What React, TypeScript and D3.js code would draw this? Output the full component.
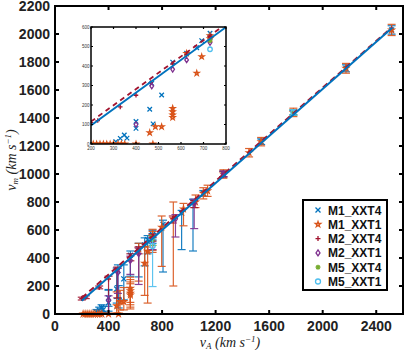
import React from 'react';
import * as d3 from 'd3';

// fit lines (vA -> vm)
const fitVA = [200, 2520];
const fitBlue = [95, 2045];
const fitRed = [115, 2050];

// M1_XXT4
const m1t4VA = [310, 330, 348, 360, 400, 400, 461, 470, 476, 514, 563, 625, 670, 692, 729, 729, 807, 946, 1031, 1108, 1258, 1540, 1781, 2174, 2515];
const m1t4VM = [12, 29, 46, 30, 80, 115, 178, 311, 103, 251, 420, 465, 494, 530, 568, 545, 640, 720, 800, 862, 1000, 1231, 1438, 1755, 2029];
const m1t4Lo = [10, 20, 30, 20, 60, 60, 100, 200, 60, 150, 150, 200, 150, 100, 40, 40, 340, 260, 350, 20, 20, 20, 15, 25, 30];
const m1t4Hi = [20, 20, 20, 25, 90, 60, 150, 40, 100, 100, 30, 40, 50, 30, 30, 30, 30, 20, 20, 20, 20, 20, 15, 25, 30];

// M1_XXT1
const m1t1VA = [210, 225, 240, 255, 270, 285, 300, 320, 335, 350, 400, 475, 461, 486, 514, 563, 563, 563, 563, 625, 670, 692, 729, 729, 797, 884, 960, 1050, 1108, 1140, 1258, 1450, 1540, 1781, 2174, 2515];
const m1t1VM = [0, 0, 0, 0, 0, 0, 0, 0, 0, 0, 0, 0, 58, 89, 89, 183, 166, 149, 136, 465, 363, 448, 540, 555, 620, 680, 750, 800, 862, 880, 1000, 1152, 1231, 1440, 1755, 2029];
const m1t1Lo = [0, 0, 0, 0, 0, 0, 0, 0, 0, 0, 0, 0, 50, 60, 60, 100, 100, 100, 100, 230, 230, 370, 100, 100, 280, 480, 120, 40, 40, 40, 30, 30, 30, 30, 35, 40];
const m1t1Hi = [0, 0, 0, 0, 0, 0, 0, 0, 0, 0, 0, 0, 100, 80, 100, 80, 80, 80, 80, 40, 120, 30, 50, 50, 80, 120, 40, 50, 40, 40, 30, 30, 30, 30, 35, 40];

// M2_XXT4
const m2t4VA = [200, 230, 330, 400, 465, 563, 625, 729, 880, 1040, 1258];
const m2t4VM = [110, 120, 190, 250, 315, 410, 460, 550, 680, 790, 1000];
const m2t4Lo = [10, 10, 10, 250, 200, 30, 30, 30, 30, 30, 20];
const m2t4Hi = [10, 10, 10, 20, 20, 20, 20, 20, 20, 20, 20];

// M2_XXT1
const m2t1VA = [400, 470, 563, 625, 729, 900, 1040, 1258];
const m2t1VM = [100, 297, 383, 431, 520, 680, 790, 1000];
const m2t1Lo = [100, 150, 100, 220, 60, 130, 180, 20];
const m2t1Hi = [30, 30, 30, 40, 30, 30, 30, 20];

// M5_XXT4
const m5t4VA = [729, 1781];
const m5t4VM = [530, 1440];
const m5t4Lo = [40, 20];
const m5t4Hi = [30, 20];

// M5_XXT1
const m5t1VA = [729, 1781];
const m5t1VM = [486, 1440];
const m5t1Lo = [290, 20];
const m5t1Hi = [50, 20];

const xTicks = [0, 400, 800, 1200, 1600, 2000, 2400];
const yTicks = [0, 200, 400, 600, 800, 1000, 1200, 1400, 1600, 1800, 2000, 2200];
const insetTicks = [200, 300, 400, 500, 600, 700, 800];
const insetYTicks = [0, 100, 200, 300, 400, 500, 600];

const series = [
  { name: 'M1_XXT4', mark: 'x', color: '#0072BD', va: m1t4VA, vm: m1t4VM, lo: m1t4Lo, hi: m1t4Hi },
  { name: 'M1_XXT1', mark: 'star', color: '#D95319', va: m1t1VA, vm: m1t1VM, lo: m1t1Lo, hi: m1t1Hi },
  { name: 'M2_XXT4', mark: '+', color: '#A2142F', va: m2t4VA, vm: m2t4VM, lo: m2t4Lo, hi: m2t4Hi },
  { name: 'M2_XXT1', mark: 'diamond', color: '#7E2F8E', va: m2t1VA, vm: m2t1VM, lo: m2t1Lo, hi: m2t1Hi },
  { name: 'M5_XXT4', mark: '*', color: '#77AC30', va: m5t4VA, vm: m5t4VM, lo: m5t4Lo, hi: m5t4Hi },
  { name: 'M5_XXT1', mark: 'o', color: '#4DBEEE', va: m5t1VA, vm: m5t1VM, lo: m5t1Lo, hi: m5t1Hi },
];

const SANS = '"Liberation Sans", Arial, sans-serif';
const SERIF = '"Liberation Serif", "DejaVu Serif", serif';

function Marker({ type, x, y, color, s }: any) {
  const h = s / 2;
  const common = { stroke: color, fill: 'none', strokeWidth: 1.3 };
  if (type === 'x') return <path {...common} d={`M${x - h},${y - h}L${x + h},${y + h}M${x - h},${y + h}L${x + h},${y - h}`} />;
  if (type === '+') return <path {...common} d={`M${x - h},${y}L${x + h},${y}M${x},${y - h}L${x},${y + h}`} />;
  if (type === '*') {
    const k = h * 0.7;
    return <path {...common} d={`M${x - h},${y}L${x + h},${y}M${x},${y - h}L${x},${y + h}M${x - k},${y - k}L${x + k},${y + k}M${x - k},${y + k}L${x + k},${y - k}`} />;
  }
  if (type === 'o') return <circle {...common} cx={x} cy={y} r={h} />;
  if (type === 'diamond') return <path {...common} d={`M${x},${y - h * 1.2}L${x + h * 0.8},${y}L${x},${y + h * 1.2}L${x - h * 0.8},${y}Z`} />;
  const star = d3.symbol(d3.symbolStar, s * s * 0.35)();
  return <path {...common} transform={`translate(${x},${y})`} d={star || ''} />;
}

export default function App() {
  const x = d3.scaleLinear().domain([0, 2600]).range([55, 403]);
  const y = d3.scaleLinear().domain([0, 2200]).range([314, 6]);
  const ix = d3.scaleLinear().domain([200, 800]).range([91, 226]);
  const iy = d3.scaleLinear().domain([0, 600]).range([144, 27]);

  const line = (sx: any, sy: any, ys: number[]) =>
    d3.line<number>().x((d) => sx(d)).y((_, i) => sy(ys[i]))(fitVA) || '';

  const [x0, x1] = x.range();
  const [y0, y1] = y.range();
  const [ix0, ix1] = ix.range();
  const [iy0, iy1] = iy.range();

  return (
    <svg width={415} height={350} style={{ position: 'absolute', left: 0, top: 0, background: '#fff' }}>
      <defs>
        <clipPath id="insetClip">
          <rect x={ix0} y={iy1} width={ix1 - ix0} height={iy0 - iy1} />
        </clipPath>
        <clipPath id="mainClip">
          <rect x={x0} y={y1 - 4} width={x1 - x0} height={y0 - y1 + 10} />
        </clipPath>
      </defs>

      {/* main: error bars + markers */}
      <g clipPath="url(#mainClip)">
        {series.map((s) => (
          <g key={s.name}>
            {s.va.map((va, i) => {
              if (s.lo[i] === 0 && s.hi[i] === 0) return null;
              const px = x(va);
              const top = y(s.vm[i] + s.hi[i]);
              const bot = y(Math.max(0, s.vm[i] - s.lo[i]));
              return (
                <g key={i} stroke={s.color} strokeWidth={1.2} opacity={0.9}>
                  <line x1={px} x2={px} y1={top} y2={bot} />
                  <line x1={px - 4} x2={px + 4} y1={top} y2={top} />
                  <line x1={px - 4} x2={px + 4} y1={bot} y2={bot} />
                </g>
              );
            })}
            {s.va.map((va, i) => (
              <Marker key={'m' + i} type={s.mark} x={x(va)} y={y(s.vm[i])} color={s.color} s={5} />
            ))}
          </g>
        ))}
        <path d={line(x, y, fitRed)} stroke="#A2142F" strokeWidth={2} fill="none" strokeDasharray="6,4" />
        <path d={line(x, y, fitBlue)} stroke="#0072BD" strokeWidth={2} fill="none" />
      </g>

      {/* main frame and ticks */}
      <rect x={x0} y={y1} width={x1 - x0} height={y0 - y1} fill="none" stroke="#000" strokeWidth={2} />
      {xTicks.map((t) => (
        <g key={'xt' + t}>
          <line x1={x(t)} x2={x(t)} y1={y0} y2={y0 - 4} stroke="#000" strokeWidth={2} />
          <line x1={x(t)} x2={x(t)} y1={y1} y2={y1 + 4} stroke="#000" strokeWidth={2} />
          <text x={x(t)} y={331} textAnchor="middle" fontFamily={SANS} fontWeight="bold" fontSize={14} fill="#222">{t}</text>
        </g>
      ))}
      {yTicks.map((t) => (
        <g key={'yt' + t}>
          <line x1={x0} x2={x0 + 4} y1={y(t)} y2={y(t)} stroke="#000" strokeWidth={2} />
          <line x1={x1} x2={x1 - 4} y1={y(t)} y2={y(t)} stroke="#000" strokeWidth={2} />
          <text x={50} y={y(t) + 5} textAnchor="end" fontFamily={SANS} fontWeight="bold" fontSize={14} fill="#222">{t}</text>
        </g>
      ))}

      {/* axis labels */}
      <text x={230} y={347} textAnchor="middle" fontFamily={SERIF} fontStyle="italic" fontSize={14} fill="#222">
        v<tspan fontSize={9} dy={2}>A</tspan>
        <tspan dy={-2}> (km s</tspan>
        <tspan fontSize={9} dy={-5}>−1</tspan>
        <tspan dy={5}>)</tspan>
      </text>
      <text transform={`translate(16,${(y0 + y1) / 2}) rotate(-90)`} textAnchor="middle" fontFamily={SERIF} fontStyle="italic" fontSize={14} fill="#222">
        v<tspan fontSize={9} dy={2}>m</tspan>
        <tspan dy={-2}> (km s</tspan>
        <tspan fontSize={9} dy={-5}>−1</tspan>
        <tspan dy={5}>)</tspan>
      </text>

      {/* inset */}
      <rect x={ix0} y={iy1} width={ix1 - ix0} height={iy0 - iy1} fill="#fff" />
      <g clipPath="url(#insetClip)">
        {series.map((s) => (
          <g key={'in' + s.name}>
            {s.va.map((va, i) => (
              <Marker key={i} type={s.mark} x={ix(va)} y={iy(s.vm[i])} color={s.color} s={4.5} />
            ))}
          </g>
        ))}
        <path d={line(ix, iy, fitRed)} stroke="#A2142F" strokeWidth={1.8} fill="none" strokeDasharray="5,4" />
        <path d={line(ix, iy, fitBlue)} stroke="#0072BD" strokeWidth={1.8} fill="none" />
      </g>
      <rect x={ix0} y={iy1} width={ix1 - ix0} height={iy0 - iy1} fill="none" stroke="#000" strokeWidth={1.5} />
      {insetTicks.map((t) => (
        <g key={'ixt' + t}>
          <line x1={ix(t)} x2={ix(t)} y1={iy0} y2={iy0 - 2} stroke="#000" strokeWidth={1.2} />
          <line x1={ix(t)} x2={ix(t)} y1={iy1} y2={iy1 + 2} stroke="#000" strokeWidth={1.2} />
          <text x={ix(t)} y={iy0 + 6} textAnchor="middle" fontFamily={SANS} fontSize={4.5} fill="#333">{t}</text>
        </g>
      ))}
      {insetYTicks.map((t) => (
        <g key={'iyt' + t}>
          <line x1={ix0} x2={ix0 + 2} y1={iy(t)} y2={iy(t)} stroke="#000" strokeWidth={1.2} />
          <line x1={ix1} x2={ix1 - 2} y1={iy(t)} y2={iy(t)} stroke="#000" strokeWidth={1.2} />
          <text x={ix0 - 1.5} y={iy(t) + 1.5} textAnchor="end" fontFamily={SANS} fontSize={4.5} fill="#333">{t}</text>
        </g>
      ))}

      {/* legend */}
      <rect x={303} y={200} width={84} height={90} fill="#fff" stroke="#000" strokeWidth={2} />
      {series.map((s, i) => {
        const ly = 210 + i * 14.3;
        return (
          <g key={'lg' + s.name}>
            <Marker type={s.mark} x={318} y={ly} color={s.color} s={5} />
            <text x={328} y={ly + 4.5} fontFamily={SANS} fontWeight="bold" fontSize={12} fill="#111">{s.name}</text>
          </g>
        );
      })}
    </svg>
  );
}
